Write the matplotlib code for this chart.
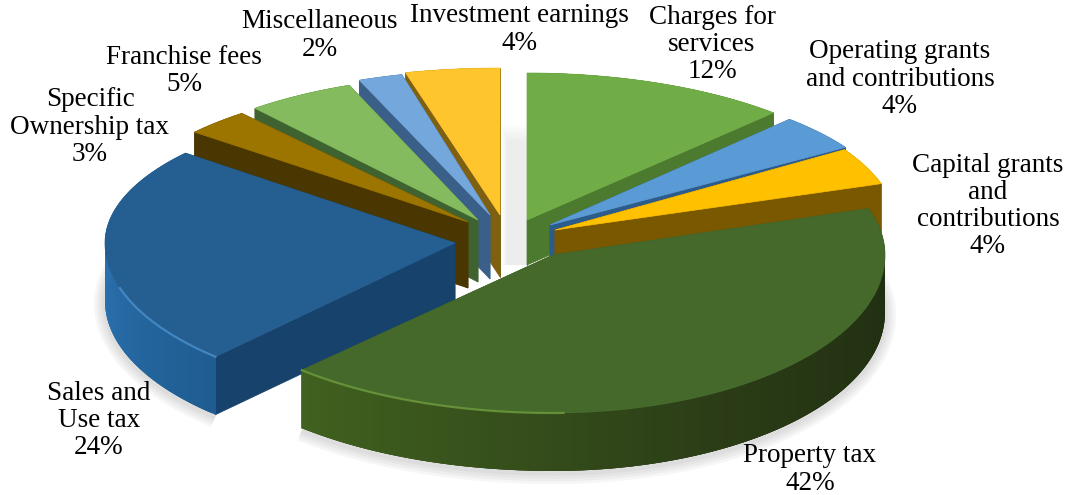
import numpy as np
import matplotlib
matplotlib.use("Agg")
import matplotlib.pyplot as plt
from matplotlib.colors import to_rgb

plt.rcParams['font.family'] = ['Liberation Serif', 'DejaVu Serif']

### DATA ###
categories = ["Charges for\nservices", "Operating grants\nand contributions", "Capital grants\nand\ncontributions",
              "Property tax", "Sales and\nUse tax", "Specific\nOwnership tax", "Franchise fees", "Miscellaneous",
              "Investment earnings"]
values = [12, 4, 4, 42, 24, 3, 5, 2, 4]

### STYLE, one entry per slice ###
top_colors = ["#70AD47", "#5B9BD5", "#FFC000", "#44692B", "#255E91", "#9C7500", "#84BB5E", "#74A7DB", "#FFC52D"]
edge_colors = ["#4C7A2E", "#2C5C8C", "#7A5800", "#3A5A22", "#17426B", "#4A3600", "#3F6330", "#3A5F88", "#7F6010"]
# arc wall colours, from start angle to end angle of the slice
arc_start = ["#4C7A2E", "#2C5C8C", "#7A5800", "#1C2A0F", "#1F5C90", "#4A3600", "#3F6330", "#3A5F88", "#7F6010"]
arc_mid = ["#4C7A2E", "#2C5C8C", "#7A5800", "#2A3B16", "#2A70AE", "#4A3600", "#3F6330", "#3A5F88", "#7F6010"]
arc_end = ["#4C7A2E", "#2C5C8C", "#7A5800", "#40611F", "#2A70AE", "#4A3600", "#3F6330", "#3A5F88", "#7F6010"]

tip_x = [527, 550, 555, 553, 455, 468, 478, 490, 500]
tip_y = [220, 225, 230, 255, 243, 222, 220, 215, 215]
rx_left = [360, 350, 343, 367, 350, 355, 350, 355, 380]
rx_right = [360, 350, 343, 332, 350, 355, 350, 355, 380]
ry_back = [147, 145, 150, 150, 141, 141, 145, 145, 147]
ry_front = [147, 145, 150, 158, 156, 141, 145, 145, 147]
depth = [45, 45, 57, 58, 58, 66, 62, 64, 62]
draw_order = [0, 8, 7, 6, 5, 1, 2, 4, 3]

# label centres, first line, in pixels
label_x = [712, 900, 988, 810, 99, 90, 184, 320, 519]
label_y = [17, 52, 165, 456, 393, 100, 57, 22, 16]
line_step = 27.3

angles = np.concatenate([[0], np.cumsum(values)]) * 3.6


def arc(i, theta):
	th = np.radians(theta)
	sx, cy = np.sin(th), np.cos(th)
	rx = np.where(sx < 0, rx_left[i], rx_right[i])
	ry = np.where(cy > 0, ry_back[i], ry_front[i])
	return tip_x[i] + rx * sx, tip_y[i] - ry * cy


def mix(c1, c2, t):
	c1, c2 = np.array(to_rgb(c1)), np.array(to_rgb(c2))
	return tuple(c1 + (c2 - c1) * t)


fig = plt.figure(figsize=(10.7, 4.95), dpi=100)
ax = fig.add_axes([0, 0, 1, 1])
ax.set_xlim(0, 1070)
ax.set_ylim(495, 0)
ax.axis('off')

# soft shadow in the gap between first and last slice
for k in range(6):
	ax.fill_between([tip_x[8] + 2 + k, tip_x[0]], 125 + 3 * k, tip_y[0] + 45, color="#808080", alpha=0.022, lw=0, zorder=0.1)

# soft shadow under the front walls
for i in [3, 4]:
	th = np.linspace(angles[i], angles[i + 1], 150)
	x, y = arc(i, th)
	for w in [16, 12, 8, 4]:
		ax.plot(x, y + depth[i] + 2, color="#808080", alpha=0.07, lw=w, solid_capstyle='butt', zorder=0.2)

for i in draw_order:
	a0, a1 = angles[i], angles[i + 1]
	th = np.linspace(a0, a1, 121)
	x, y = arc(i, th)
	d = depth[i]

	# radial walls
	for xe, ye in [(x[0], y[0]), (x[-1], y[-1])]:
		ax.fill([tip_x[i], xe, xe, tip_x[i]], [tip_y[i], ye, ye + d, tip_y[i] + d],
				color=edge_colors[i], lw=0.5)

	# outer wall, drawn in overlapping strips for the gradient
	for j in range(len(th) - 1):
		t = j / (len(th) - 2)
		col = mix(arc_start[i], arc_mid[i], t * 2) if t < 0.5 else mix(arc_mid[i], arc_end[i], t * 2 - 1)
		k = min(j + 3, len(th) - 1)
		ax.fill([x[j], x[k], x[k], x[j]], [y[j], y[k], y[k] + d, y[j] + d], color=col, lw=0)

	# top face
	ax.fill(np.r_[tip_x[i], x], np.r_[tip_y[i], y], color=top_colors[i], lw=0.5)

# highlight on the front rims
x, y = arc(3, np.linspace(angles[4] - 45, angles[4], 60))
ax.plot(x, y, color="#6E9C3E", lw=1.6, alpha=0.8, zorder=3)
x, y = arc(4, np.linspace(angles[4], angles[4] + 30, 60))
ax.plot(x, y, color="#4A90CC", lw=1.6, alpha=0.8, zorder=3)

for i, name in enumerate(categories):
	lines = name.split("\n") + [str(values[i]) + "%"]
	for n, line in enumerate(lines):
		ax.text(label_x[i], label_y[i] + n * line_step, line, ha='center', va='center', fontsize=19.5, color="black", zorder=4)

plt.savefig("out.png", dpi=100)
